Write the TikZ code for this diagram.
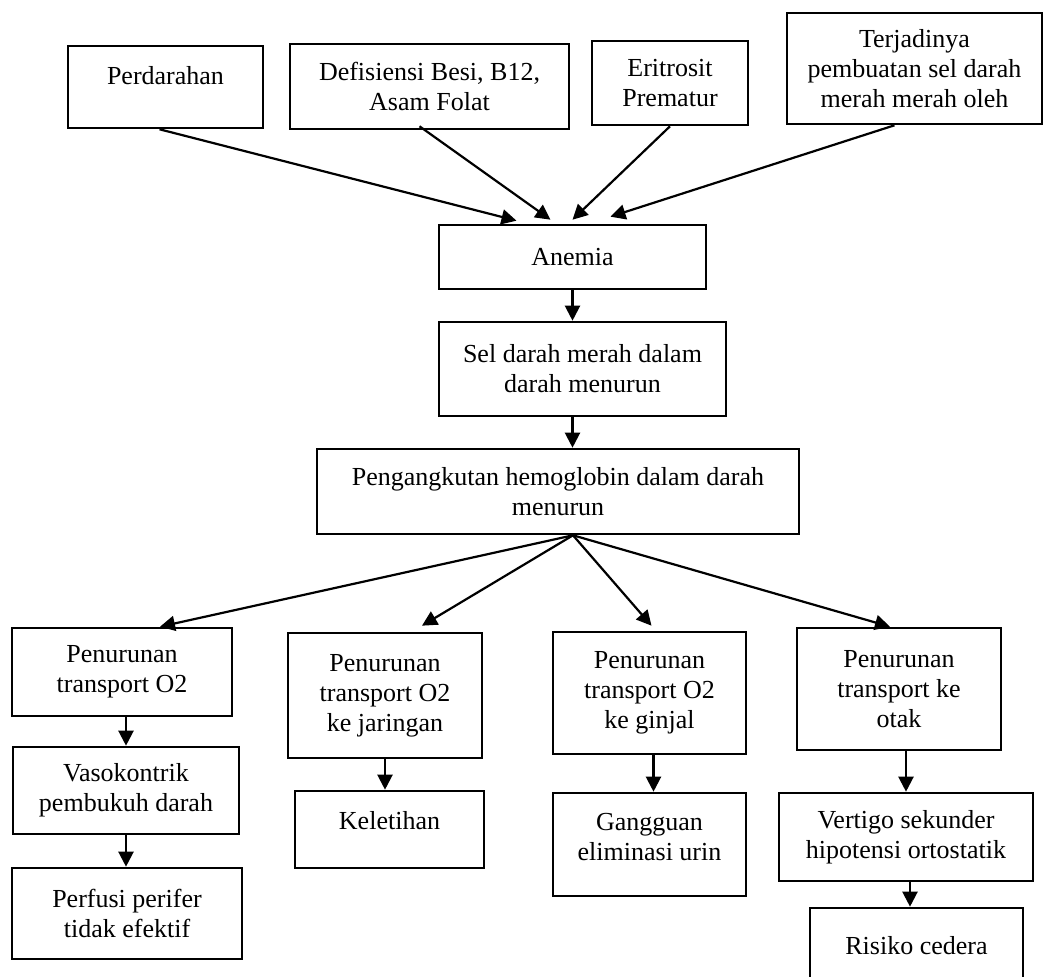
\documentclass[tikz,border=0pt]{standalone}
\usepackage{fontspec}
\setmainfont{Liberation Serif}
\usetikzlibrary{arrows.meta}
\newcommand{\padlow}[1]{\rule[-#1]{0pt}{#1}}

\begin{document}
\begin{tikzpicture}[x=0.5pt, y=-0.5pt, >={Triangle[length=7.5pt, width=7.5pt]},
        box/.style={draw, line width=1.3pt, align=center, inner sep=0pt, font=\fontsize{13}{15}\selectfont},
        arr/.style={->, line width=1.1pt}]
        \useasboundingbox (0,0) rectangle (1050,977);

        \node[box, minimum width=97.5pt, minimum height=41pt] (perd) at (165.5, 87) {Perdarahan\padlow{12pt}};
        \node[box, minimum width=139.5pt, minimum height=42.5pt] (defi) at (429.5, 86.5) {Defisiensi Besi, B12,\\Asam Folat};
        \node[box, minimum width=78pt, minimum height=42pt] (erit) at (670, 83) {Eritrosit\\Prematur};
        \node[box, minimum width=127.5pt, minimum height=55.5pt] (terj) at (914.5, 68.5) {Terjadinya\\pembuatan sel darah\\merah merah oleh};

        \node[box, minimum width=133.5pt, minimum height=32pt] (anem) at (572.5, 257) {Anemia};
        \node[box, minimum width=143.5pt, minimum height=47pt] (sel) at (582.5, 369) {Sel darah merah dalam\\darah menurun};
        \node[box, minimum width=241pt, minimum height=42.5pt] (peng) at (558, 491.5) {Pengangkutan hemoglobin dalam darah\\menurun};

        \node[box, minimum width=110pt, minimum height=44pt] (pen1) at (122, 672) {Penurunan\\transport O2};
        \node[box, minimum width=97pt, minimum height=62.5pt] (pen2) at (385, 695.5) {Penurunan\\transport O2\\ke jaringan};
        \node[box, minimum width=96.5pt, minimum height=61pt] (pen3) at (649.5, 693) {Penurunan\\transport O2\\ke ginjal};
        \node[box, minimum width=102pt, minimum height=61pt] (pen4) at (899, 689) {Penurunan\\transport ke\\otak};

        \node[box, minimum width=113pt, minimum height=43.5pt] (vaso) at (126, 790.5) {Vasokontrik\\pembukuh darah};
        \node[box, minimum width=115pt, minimum height=45.5pt] (perf) at (127, 913.5) {Perfusi perifer\\tidak efektif};
        \node[box, minimum width=94.5pt, minimum height=38.5pt] (kele) at (389.5, 829.5) {Keletihan\padlow{9pt}};
        \node[box, minimum width=96.5pt, minimum height=51.5pt] (gang) at (649.5, 844.5) {Gangguan\\eliminasi urin\padlow{8pt}};
        \node[box, minimum width=127pt, minimum height=44pt] (vert) at (906, 837) {Vertigo sekunder\\hipotensi ortostatik};
        \node[box, minimum width=106.5pt, minimum height=50pt] (risk) at (916.5, 958) {Risiko cedera\padlow{13pt}};

        \draw[arr] ([xshift=-3pt]perd.south) -- ([xshift=-28pt, yshift=1.5pt]anem.north);
        \draw[arr] ([xshift=-5pt, yshift=2pt]defi.south) -- ([xshift=-11pt, yshift=2pt]anem.north);
        \draw[arr] (erit.south) -- ([yshift=2pt]anem.north);
        \draw[arr] ([xshift=-10pt]terj.south) -- ([xshift=19pt, yshift=3.5pt]anem.north);

        \draw[arr] (anem.south) -- (anem.south |- sel.north);
        \draw[arr] (sel.south -| anem.south) -- (anem.south |- peng.north);

        \coordinate (fan) at ([xshift=7.5pt]peng.south);
        \draw[arr] (fan) -- ([xshift=19pt]pen1.north);
        \draw[arr] (fan) -- ([xshift=18.5pt, yshift=3pt]pen2.north);
        \draw[arr] (fan) -- ([xshift=1pt, yshift=2.5pt]pen3.north);
        \draw[arr] (fan) -- ([xshift=-4.5pt]pen4.north);

        \draw[arr] (pen1.south -| vaso.north) -- (vaso.north);
        \draw[arr] (vaso.south) -- (vaso.south |- perf.north);
        \draw[arr] (pen2.south) -- (pen2.south |- kele.north);
        \draw[arr] ([xshift=2pt]pen3.south) -- ([xshift=2pt]gang.north);
        \draw[arr] (pen4.south -| vert.north) -- (vert.north);
        \draw[arr] ([xshift=2pt]vert.south) -- ([xshift=2pt]vert.south |- risk.north);
\end{tikzpicture}
\end{document}
